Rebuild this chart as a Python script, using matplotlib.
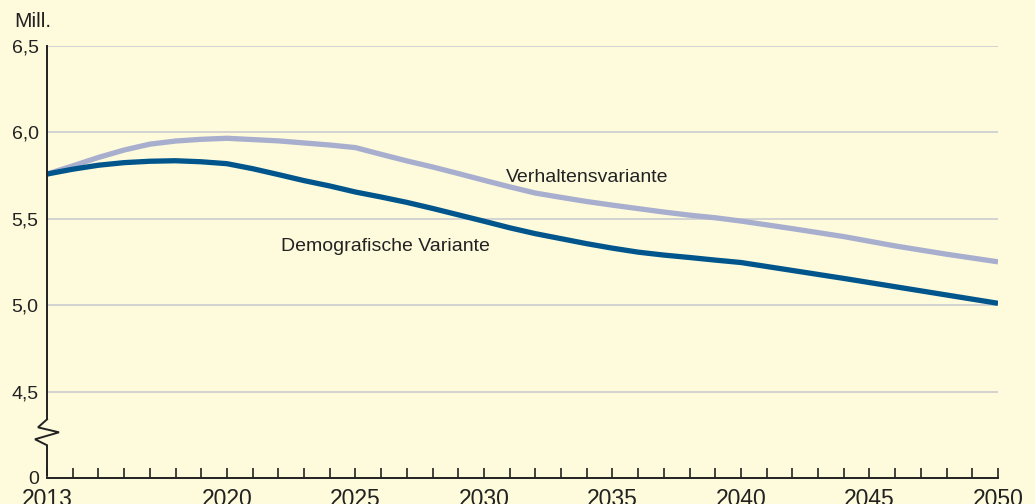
import matplotlib
matplotlib.use('Agg')
import matplotlib.pyplot as plt
from matplotlib import transforms

plt.rcParams['font.family'] = ['Liberation Sans', 'DejaVu Sans']

# Erwerbspersonen in Mill., Vorausberechnung 2013-2050
years_demo = [2013, 2014, 2015, 2016, 2017, 2018, 2019, 2020, 2021, 2022, 2023,
              2024, 2025, 2026, 2027, 2028, 2029, 2030, 2031, 2032, 2033, 2034,
              2035, 2036, 2037, 2038, 2039, 2040, 2042, 2044, 2046, 2048, 2050]
demo = [5.759, 5.787, 5.810, 5.825, 5.833, 5.836, 5.830, 5.819, 5.790, 5.756, 5.721,
        5.690, 5.655, 5.626, 5.595, 5.560, 5.523, 5.486, 5.448, 5.414, 5.385, 5.356,
        5.330, 5.307, 5.290, 5.276, 5.261, 5.247, 5.201, 5.155, 5.107, 5.059, 5.011]

years_verh = [2013, 2014, 2015, 2016, 2017, 2018, 2019, 2020, 2022, 2024, 2025,
              2026, 2027, 2028, 2029, 2030, 2031, 2032, 2033, 2034, 2035, 2036,
              2037, 2038, 2039, 2040, 2042, 2044, 2046, 2048, 2050]
verh = [5.759, 5.806, 5.855, 5.898, 5.932, 5.950, 5.960, 5.966, 5.951, 5.927, 5.912,
        5.873, 5.835, 5.800, 5.762, 5.723, 5.685, 5.649, 5.624, 5.600, 5.579, 5.559,
        5.539, 5.521, 5.506, 5.487, 5.443, 5.397, 5.343, 5.295, 5.251]

ytick_vals = [4.0, 4.5, 5.0, 5.5, 6.0, 6.5]
ytick_labels = ['0', '4,5', '5,0', '5,5', '6,0', '6,5']
xlabel_years = [2013, 2020, 2025, 2030, 2035, 2040, 2045, 2050]

BG = '#FEFBDC'
DARK = '#00568C'
LIGHT = '#A8AECE'
GRID = '#C6C8CE'
TXT = '#222222'

W, H = 1035, 504
fig = plt.figure(figsize=(W / 100, H / 100), dpi=100, facecolor=BG)
ax = fig.add_axes([47 / W, (H - 478) / H, (998 - 47) / W, (478 - 46) / H])
ax.set_facecolor(BG)

ax.set_xlim(2013, 2050)
ax.set_ylim(4.0, 6.5)

for v in ytick_vals[1:]:
    ax.axhline(v, color=GRID, lw=1.1, zorder=1)

ax.plot(years_verh, verh, color=LIGHT, lw=3.8, solid_capstyle='butt',
        solid_joinstyle='round', zorder=3)
ax.plot(years_demo, demo, color=DARK, lw=3.8, solid_capstyle='butt',
        solid_joinstyle='round', zorder=4)

ax.text(2030.87, 5.713, 'Verhaltensvariante', fontsize=14, color=TXT,
        ha='left', va='baseline')
ax.text(2022.11, 5.313, 'Demografische Variante', fontsize=14, color=TXT,
        ha='left', va='baseline')

# axes
for s in ('top', 'right', 'left'):
    ax.spines[s].set_visible(False)
ax.spines['bottom'].set_color('#222222')
ax.spines['bottom'].set_linewidth(1.4)

ax.set_xticks(range(2013, 2051))
ax.set_xticklabels([str(y) if y in xlabel_years else '' for y in range(2013, 2051)])
ax.tick_params(axis='x', direction='in', length=7.5, width=1.2, color='#222222',
               labelsize=16.5, labelcolor=TXT, pad=7)
ax.set_yticks(ytick_vals)
ax.set_yticklabels(ytick_labels)
ax.tick_params(axis='y', length=0, labelsize=14, labelcolor=TXT, pad=6)

# left axis line with break zigzag (pixel offsets -> axes/data coords)
tr = transforms.blended_transform_factory(ax.transAxes, ax.transData)
def px(xp, yp):
    return (xp - 47) / 951, 6.5 - (yp - 46) / 174
upper = [px(47, 46), px(47, 422)]
zig = [px(47, 422), px(38, 430), px(59, 435), px(35, 442), px(47, 448), px(47, 478)]
for seg in (upper, zig):
    xs, ys = zip(*seg)
    ax.plot(xs, ys, color='#222222', lw=1.4, transform=tr, clip_on=False,
            solid_joinstyle='miter', zorder=5)

fig.text(14 / W, 1 - 27 / H, 'Mill.', fontsize=15, color=TXT, ha='left', va='baseline')

fig.savefig('out.png', dpi=100, facecolor=BG)
